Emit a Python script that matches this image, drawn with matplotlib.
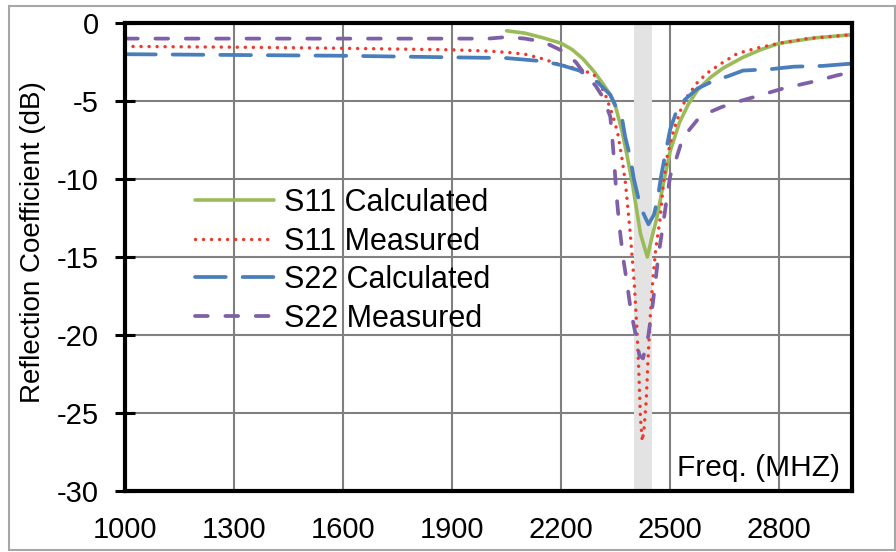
import matplotlib
matplotlib.use("Agg")
import matplotlib.pyplot as plt
from matplotlib.patches import Rectangle

plt.rcParams["font.family"] = ["Liberation Sans", "DejaVu Sans"]
plt.rcParams["axes.unicode_minus"] = False

# Frequency (MHz) and reflection coefficient (dB) for each trace
s11_calc_freq = [2050, 2100, 2150, 2200, 2230, 2260, 2290, 2315, 2335, 2350, 2367,
                 2382, 2396, 2418, 2437, 2450, 2464, 2481, 2500, 2525, 2550, 2575,
                 2610, 2645, 2700, 2750, 2800, 2900, 3000]
s11_calc_db = [-0.5, -0.65, -0.95, -1.3, -1.7, -2.3, -3.1, -3.9, -4.6, -5.4, -6.9,
               -8.6, -10.3, -13.5, -15.0, -13.7, -12.4, -10.3, -8.2, -6.4, -5.2, -4.3,
               -3.5, -2.9, -2.2, -1.7, -1.3, -0.95, -0.75]

s11_meas_freq = [1000, 1300, 1600, 1900, 2000, 2060, 2100, 2150, 2200, 2250, 2290,
                 2320, 2340, 2355, 2368, 2377, 2390, 2401, 2408, 2413, 2418, 2423,
                 2428, 2434, 2438, 2445, 2452, 2460, 2473, 2481, 2492, 2509, 2530,
                 2547, 2575, 2602, 2640, 2685, 2740, 2800, 2877, 2950, 3000]
s11_meas_db = [-1.5, -1.55, -1.62, -1.72, -1.8, -1.9, -2.0, -2.3, -2.7, -2.95, -3.3,
               -4.5, -5.8, -7.0, -8.8, -10.3, -13.5, -16.7, -19.5, -22.0, -25.3, -26.8,
               -26.0, -24.2, -22.0, -18.8, -16.5, -14.5, -12.4, -10.3, -8.5, -6.9, -5.5,
               -4.7, -3.8, -3.2, -2.6, -1.95, -1.6, -1.3, -1.0, -0.85, -0.75]

s22_calc_freq = [1000, 1300, 1600, 1900, 2050, 2150, 2200, 2250, 2280, 2300, 2335,
                 2368, 2376, 2390, 2400, 2418, 2440, 2455, 2465, 2475, 2488, 2500,
                 2515, 2536, 2575, 2620, 2660, 2700, 2780, 2840, 2920, 3000]
s22_calc_db = [-2.0, -2.05, -2.1, -2.2, -2.25, -2.45, -2.7, -3.05, -3.5, -3.8, -4.6,
               -6.2, -7.3, -8.6, -10.0, -11.8, -12.9, -12.3, -11.3, -9.8, -8.2, -6.8,
               -5.8, -5.0, -4.2, -3.7, -3.4, -3.05, -2.95, -2.8, -2.75, -2.6]

s22_meas_freq = [1000, 1300, 1600, 1900, 2000, 2050, 2100, 2150, 2200, 2240, 2272,
                 2294, 2316, 2335, 2341, 2346, 2352, 2360, 2370, 2380, 2392, 2405,
                 2415, 2425, 2440, 2453, 2467, 2481, 2492, 2500, 2515, 2530, 2547,
                 2575, 2600, 2640, 2670, 2730, 2810, 2895, 2960, 3000]
s22_meas_db = [-1.0, -1.0, -1.0, -1.0, -1.0, -0.9, -1.0, -1.2, -1.75, -2.5, -3.5,
               -4.0, -4.8, -6.0, -7.5, -9.0, -11.0, -13.0, -15.0, -16.5, -18.5, -20.0,
               -21.3, -21.5, -20.0, -17.8, -15.0, -12.8, -11.0, -9.8, -8.8, -7.7, -7.0,
               -6.2, -5.8, -5.4, -5.15, -4.75, -4.2, -3.75, -3.35, -3.15]

band_lo, band_hi = 2400, 2450
x_ticks = [1000, 1300, 1600, 1900, 2200, 2500, 2800]
y_ticks = [0, -5, -10, -15, -20, -25, -30]

W, H = 896, 552
fig = plt.figure(figsize=(W / 100, H / 100), dpi=100)
fig.patch.set_facecolor("white")

# thin grey outline around the whole chart
fig.add_artist(Rectangle((9 / W, 1 - 550 / H), (W - 10) / W, (550 - 6) / H,
                         transform=fig.transFigure, fill=False,
                         edgecolor="#a6a6a6", linewidth=1.5))

ax = fig.add_axes([125 / W, 1 - 491 / H, (852 - 125) / W, (491 - 23) / H])
ax.set_xlim(1000, 3000)
ax.set_ylim(-30, 0)
ax.set_xticks(x_ticks)
ax.set_yticks(y_ticks)
ax.set_axisbelow(True)
ax.grid(True, color="#808080", linewidth=1.5)

ax.axvspan(band_lo, band_hi, color="#e3e3e3", zorder=1, linewidth=0)

l1, = ax.plot(s11_calc_freq, s11_calc_db, color="#9bbb59", linewidth=2.6,
              solid_capstyle="round", solid_joinstyle="round", zorder=3,
              label="S11 Calculated")
l2, = ax.plot(s11_meas_freq, s11_meas_db, color="#f0392a", linewidth=2.5,
              dashes=(0.01, 2.3), dash_capstyle="round", zorder=4,
              label="S11 Measured")
l3, = ax.plot(s22_calc_freq, s22_calc_db, color="#4a7ebb", linewidth=2.7,
              dashes=(8.2, 4.5), dash_capstyle="round", zorder=5,
              label="S22 Calculated")
l4, = ax.plot(s22_meas_freq, s22_meas_db, color="#7f5fa8", linewidth=2.7,
              dashes=(3.4, 4.7), dash_capstyle="round", zorder=6,
              label="S22 Measured")

for side in ["left", "right", "top", "bottom"]:
    ax.spines[side].set_linewidth(3)
    ax.spines[side].set_color("black")
    ax.spines[side].set_zorder(10)

ax.tick_params(axis="y", direction="inout", length=14, width=2.2, pad=12,
               labelsize=21, colors="black")
ax.tick_params(axis="x", length=0, pad=18, labelsize=21, colors="black")

fig.text(33 / W, 1 - 242 / H, "Reflection Coefficient (dB)", rotation=90,
         ha="center", va="center", fontsize=20)
fig.text(840 / W, 1 - 476 / H, "Freq. (MHZ)", ha="right", va="baseline",
         fontsize=21.5, zorder=11)

leg = ax.legend(handles=[l1, l2, l3, l4], loc="upper left",
                bbox_to_anchor=(195 / W, 1 - 188 / H),
                bbox_transform=fig.transFigure, frameon=False, fontsize=22,
                handlelength=2.6, handletextpad=0.3, labelspacing=0.28,
                borderpad=0, borderaxespad=0)

fig.savefig("out.png", dpi=100, facecolor="white")
